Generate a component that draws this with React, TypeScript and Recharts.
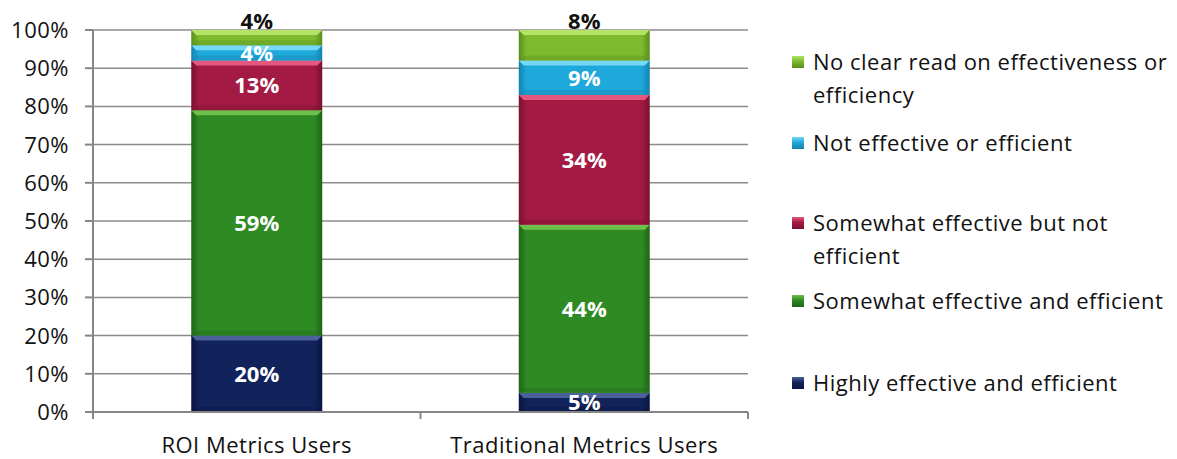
import React from "react";
import { BarChart, Bar, XAxis, YAxis, CartesianGrid, Legend, LabelList } from "recharts";

const categories = ["ROI Metrics Users", "Traditional Metrics Users"];
const highlyEffective = [20, 5];
const somewhatEffectiveEfficient = [59, 44];
const somewhatEffectiveNotEfficient = [13, 34];
const notEffective = [4, 9];
const noClearRead = [4, 8];
const seriesNames = [
  "Highly effective and efficient",
  "Somewhat effective and efficient",
  "Somewhat effective but not efficient",
  "Not effective or efficient",
  "No clear read on effectiveness or efficiency",
];
const seriesValues = [highlyEffective, somewhatEffectiveEfficient, somewhatEffectiveNotEfficient, notEffective, noClearRead];
const yTicks = [0, 10, 20, 30, 40, 50, 60, 70, 80, 90, 100];

const PALETTE = [
  { base: "#12225A", light: "#4C6099", dark: "#0A1540" },
  { base: "#2E8A22", light: "#6DC04C", dark: "#1E6517" },
  { base: "#A31A44", light: "#E4587F", dark: "#7A1031" },
  { base: "#1FA8DB", light: "#74D8F6", dark: "#1482AC" },
  { base: "#7DBA2E", light: "#B4E366", dark: "#5A8D1D" },
];

const FONT = "'Open Sans', sans-serif";
const FS = 22;
const LS = "0.5px";
const W = 1177;
const H = 459;
const MARGIN = { top: 30, right: 429, bottom: 0, left: 0 };
const YAXIS_W = 93;
const XAXIS_H = 47;
const BAND = (W - MARGIN.left - MARGIN.right - YAXIS_W) / categories.length;

const data = categories.map((c, i) => {
  const row: any = { name: c };
  seriesValues.forEach((vals, s) => {
    row["s" + s] = vals[i];
  });
  return row;
});

const BevelBar = (props: any) => {
  const { x, y, width, height, pal } = props;
  if (!height || height <= 0) return null;
  const b = Math.min(5, height / 3);
  const id = `g-${pal.base.slice(1)}`;
  return (
    <g>
      <defs>
        <linearGradient id={id} x1="0" y1="0" x2="1" y2="0">
          <stop offset="0" stopColor={pal.dark} />
          <stop offset="0.06" stopColor={pal.base} />
          <stop offset="0.94" stopColor={pal.base} />
          <stop offset="1" stopColor={pal.dark} />
        </linearGradient>
      </defs>
      <rect x={x} y={y} width={width} height={height} fill={`url(#${id})`} />
      <polygon
        points={`${x},${y} ${x + width},${y} ${x + width - b},${y + b} ${x + b},${y + b}`}
        fill={pal.light}
      />
      <polygon
        points={`${x},${y + height} ${x + width},${y + height} ${x + width - b},${y + height - b} ${x + b},${y + height - b}`}
        fill={pal.dark}
        opacity={0.35}
      />
    </g>
  );
};

const XTick = (props: any) => {
  const { x, y, payload, index } = props;
  const axisY = y;
  return (
    <g>
      {index === 0 && (
        <line x1={x - BAND / 2} y1={axisY} x2={x - BAND / 2} y2={axisY + 7} stroke="#868686" strokeWidth={2} />
      )}
      <line x1={x + BAND / 2} y1={axisY} x2={x + BAND / 2} y2={axisY + 7} stroke="#868686" strokeWidth={2} />
      <text
        x={x}
        y={axisY + 41}
        textAnchor="middle"
        fontFamily={FONT}
        fontSize={FS}
        fill="#111"
        style={{ letterSpacing: LS }}
      >
        {payload.value}
      </text>
    </g>
  );
};

const YTick = (props: any) => {
  const { x, y, payload } = props;
  return (
    <text
      x={x}
      y={y}
      dy="0.36em"
      textAnchor="end"
      fontFamily={FONT}
      fontSize={FS}
      fill="#111"
      style={{ letterSpacing: LS }}
    >
      {`${payload.value}%`}
    </text>
  );
};

const LEGEND_TOPS = [45, 126, 206, 284, 366];

const LegendContent = () => {
  const order = [4, 3, 2, 1, 0];
  return (
    <div style={{ position: "relative", width: 387, height: 0 }}>
      {order.map((s, k) => {
        const pal = PALETTE[s];
        return (
          <div
            key={s}
            style={{
              position: "absolute",
              left: 0,
              top: LEGEND_TOPS[k],
              display: "flex",
              alignItems: "flex-start",
              fontFamily: FONT,
              fontSize: FS,
              letterSpacing: LS,
              lineHeight: "33px",
              color: "#111",
              width: 385,
            }}
          >
            <span
              style={{
                display: "inline-block",
                width: 12,
                height: 12,
                marginTop: 11,
                marginRight: 9,
                flex: "0 0 auto",
                background: `linear-gradient(180deg, ${pal.light} 0%, ${pal.base} 45%, ${pal.dark} 100%)`,
              }}
            />
            <span style={{ width: 364, textAlign: "left" }}>{seriesNames[s]}</span>
          </div>
        );
      })}
    </div>
  );
};

export default function App() {
  return (
    <div style={{ position: "absolute", left: 0, top: 0, width: W, height: H, background: "#fff" }}>
      <BarChart width={W} height={H} data={data} margin={MARGIN} barCategoryGap="30%">
        <CartesianGrid vertical={false} stroke="#8c8c8c" strokeWidth={1.5} />
        <XAxis
          dataKey="name"
          height={XAXIS_H}
          axisLine={{ stroke: "#868686", strokeWidth: 2 }}
          tickLine={false}
          tickSize={0}
          tickMargin={0}
          tick={<XTick />}
          interval={0}
        />
        <YAxis
          width={YAXIS_W}
          domain={[0, 100]}
          ticks={yTicks}
          interval={0}
          axisLine={{ stroke: "#868686", strokeWidth: 2 }}
          tickLine={{ stroke: "#868686", strokeWidth: 2 }}
          tickSize={8}
          tickMargin={16}
          tick={<YTick />}
        />
        <Legend
          content={<LegendContent />}
          wrapperStyle={{ position: "absolute", left: 792, top: 0, width: 387, height: 0, overflow: "visible" }}
        />
        {seriesValues.map((_, s) => (
          <Bar
            key={s}
            dataKey={"s" + s}
            name={seriesNames[s]}
            stackId="a"
            fill={PALETTE[s].base}
            isAnimationActive={false}
            shape={(p: any) => <BevelBar {...p} pal={PALETTE[s]} />}
          >
            <LabelList
              dataKey={"s" + s}
              position={s === 4 ? "top" : "center"}
              offset={s === 4 ? 1 : 5}
              formatter={(v: any) => `${v}%`}
              fill={s === 4 ? "#111" : "#fff"}
              fontFamily={FONT}
              fontWeight={700}
              fontSize={FS}
            />
          </Bar>
        ))}
      </BarChart>
    </div>
  );
}
